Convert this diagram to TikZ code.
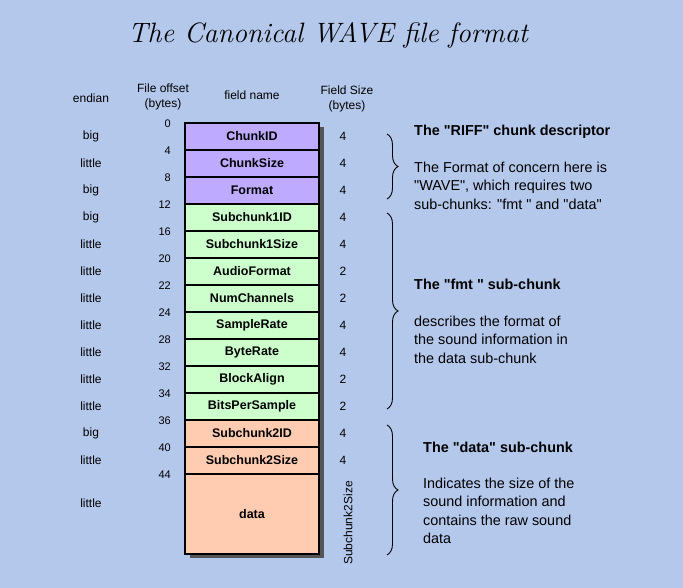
\documentclass[tikz,border=0pt]{standalone}
\usepackage{fontspec}
\newfontfamily\labelfont{Liberation Sans}
\usetikzlibrary{chains,scopes,positioning,shadows,decorations.pathreplacing}
\definecolor{bgblue}{RGB}{180,200,236}
\definecolor{riffpurple}{RGB}{190,170,255}
\definecolor{fmtgreen}{RGB}{204,255,204}
\definecolor{dataorange}{RGB}{255,204,178}
\definecolor{shadowgray}{RGB}{85,85,85}
\newcommand{\sidelabels}[3]{%
  \node[side] (#1-end) at (#1 -| endcol) {#2};
  \node[side] (#1-size) at (#1 -| sizecol) {#3}}
\newcommand{\offsetlabel}[2]{%
  \node[offset] (#1-off) at ([xshift=-14pt, yshift=-1pt]#1.north west) {#2}}
\newcommand{\chunkbrace}[2]{%
  \draw[decorate, decoration={brace, amplitude=11pt}, line width=0.9pt] (#1) -- (#2)}

\begin{document}
\begin{tikzpicture}[x=1pt, y=-1pt,
    field/.style={rectangle, draw, line width=2pt, minimum width=134pt,
    minimum height=27pt, inner sep=0pt, outer sep=0pt,
    drop shadow={shadow xshift=5pt, shadow yshift=-4pt, fill=shadowgray, opacity=1},
    font=\labelfont\bfseries\fontsize{12.5}{15}\selectfont},
    side/.style={font=\labelfont\fontsize{12}{15}\selectfont},
    offset/.style={anchor=east, inner sep=0pt, font=\labelfont\fontsize{11}{13}\selectfont},
    head/.style={align=center, inner sep=0pt, font=\labelfont\fontsize{12}{15}\selectfont},
    notehead/.style={anchor=west, inner sep=0pt, font=\labelfont\bfseries\fontsize{14.4}{18}\selectfont},
    note/.style={anchor=north west, align=left, inner sep=0pt,
    font=\labelfont\fontsize{14.4}{18.5}\selectfont}]
  \useasboundingbox (0,0) rectangle (683,588);
  \fill[bgblue] (0,0) rectangle (683,588);

  \node[anchor=base, font=\itshape\fontsize{28}{33}\selectfont] (title) at (328,43)
    {The Canonical WAVE file format};

  % column heads
  \coordinate (endcol) at (91,0);
  \coordinate (sizecol) at (343,0);
  \node[head] (endhead) at (91,98) {endian};
  \node[head] (offhead) at (163,97) {File offset\\(bytes)};
  \node[head] (namehead) at (252,95) {field name};
  \node[head] (sizehead) at (347,99) {Field Size\\(bytes)};

  {[start chain=going below, node distance=0pt]
    \node[field, on chain, fill=riffpurple] (chunkid) at (252,136.5) {ChunkID};
    \node[field, on chain, fill=riffpurple] (chunksize) {ChunkSize};
    \node[field, on chain, fill=riffpurple] (format) {Format};
    \node[field, on chain, fill=fmtgreen] (sub1id) {Subchunk1ID};
    \node[field, on chain, fill=fmtgreen] (sub1size) {Subchunk1Size};
    \node[field, on chain, fill=fmtgreen] (audiofmt) {AudioFormat};
    \node[field, on chain, fill=fmtgreen] (numchan) {NumChannels};
    \node[field, on chain, fill=fmtgreen] (samplerate) {SampleRate};
    \node[field, on chain, fill=fmtgreen] (byterate) {ByteRate};
    \node[field, on chain, fill=fmtgreen] (blockalign) {BlockAlign};
    \node[field, on chain, fill=fmtgreen] (bitspersample) {BitsPerSample};
    \node[field, on chain, fill=dataorange] (sub2id) {Subchunk2ID};
    \node[field, on chain, fill=dataorange] (sub2size) {Subchunk2Size};
    \node[field, on chain, fill=dataorange, minimum height=80pt] (data) {data};}

  \offsetlabel{chunkid}{0};
  \offsetlabel{chunksize}{4};
  \offsetlabel{format}{8};
  \offsetlabel{sub1id}{12};
  \offsetlabel{sub1size}{16};
  \offsetlabel{audiofmt}{20};
  \offsetlabel{numchan}{22};
  \offsetlabel{samplerate}{24};
  \offsetlabel{byterate}{28};
  \offsetlabel{blockalign}{32};
  \offsetlabel{bitspersample}{34};
  \offsetlabel{sub2id}{36};
  \offsetlabel{sub2size}{40};
  \offsetlabel{data}{44};

  \sidelabels{chunkid}{big}{4};
  \sidelabels{chunksize}{little}{4};
  \sidelabels{format}{big}{4};
  \sidelabels{sub1id}{big}{4};
  \sidelabels{sub1size}{little}{4};
  \sidelabels{audiofmt}{little}{2};
  \sidelabels{numchan}{little}{2};
  \sidelabels{samplerate}{little}{4};
  \sidelabels{byterate}{little}{4};
  \sidelabels{blockalign}{little}{2};
  \sidelabels{bitspersample}{little}{2};
  \sidelabels{sub2id}{big}{4};
  \sidelabels{sub2size}{little}{4};
  \node[side] (data-end) at ([yshift=11pt]data -| endcol) {little};
  \node[side, rotate=90] (data-size) at ([xshift=5pt, yshift=-9pt]data -| sizecol) {Subchunk2Size};

  % braces and notes
  \coordinate (riff-a) at (387,134);
  \coordinate (riff-b) at (387,199);
  \coordinate (fmt-a) at (387,213);
  \coordinate (fmt-b) at (387,409);
  \coordinate (data-a) at (387,425);
  \coordinate (data-b) at (387,555);
  \chunkbrace{riff-a}{riff-b};
  \chunkbrace{fmt-a}{fmt-b};
  \chunkbrace{data-a}{data-b};

  \node[notehead] (riff-head) at (414,132) {The "RIFF" chunk descriptor};
  \node[note] (riff-text) at (414,161.5)
    {The Format of concern here is\\"WAVE", which requires two\\sub-chunks: "fmt " and "data"};
  \node[notehead] (fmt-head) at (414,284) {The "fmt " sub-chunk};
  \node[note] (fmt-text) at (414,315.5)
    {describes the format of\\the sound information in\\the data sub-chunk};
  \node[notehead] (data-head) at (423,447) {The "data" sub-chunk};
  \node[note] (data-text) at (423,477.5)
    {Indicates the size of the\\sound information and\\contains the raw sound\\data};
\end{tikzpicture}
\end{document}
